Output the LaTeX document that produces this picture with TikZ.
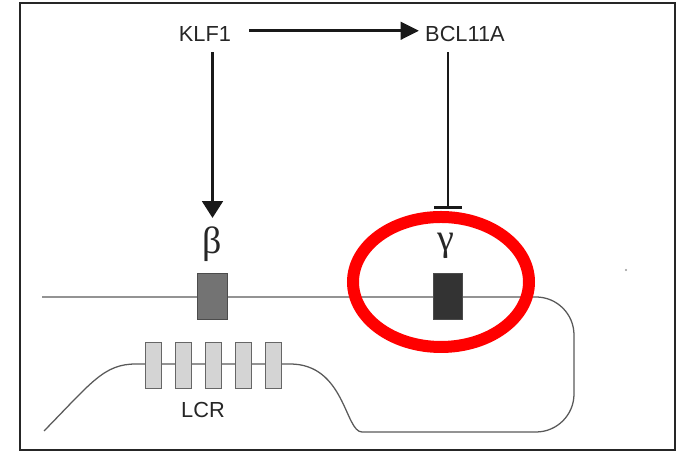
\documentclass[tikz,border=0pt]{standalone}
\usepackage{fontspec}
\setsansfont{Liberation Sans}
\newfontfamily\greekfont{Liberation Serif}
\usepackage{tikz}
\usetikzlibrary{arrows.meta,positioning}
\usepackage{xcolor}

\begin{document}
\begin{tikzpicture}[
  gene/.style={inner sep=0pt, font=\sffamily\fontsize{15.5}{18}\selectfont, text=black!85},
  greek/.style={inner sep=0pt, font=\greekfont\fontsize{27}{30}\selectfont, text=black!85},
  genebox/.style={rectangle, draw=black!70, line width=0.6pt,
    minimum width=0.73cm, minimum height=1.15cm, inner sep=0pt},
  lcrbox/.style={rectangle, draw=black!60, fill=black!17, line width=0.6pt,
    minimum width=0.4cm, minimum height=1.15cm, inner sep=0pt},
  arrow/.style={-{Triangle[length=0.42cm,width=0.52cm]}, line width=1.7pt, black!90},
  repress/.style={-{Bar[width=0.68cm,line width=2pt]}, line width=1.7pt, black!90},
  dna/.style={line width=0.9pt, black!65},
  highlight/.style={draw=red, line width=0.3cm}
]
\useasboundingbox (0,0) rectangle (17.05,11.3);
\draw[line width=1.8pt, black!85] (0.5,0.05) rectangle (16.875,11.225);

% Regulators
\node[gene] (klf) at (5.125,10.44) {KLF1};
\node[gene] (bcl) at (11.625,10.44) {BCL11A};

% Chromosome
\coordinate (dnaL) at (1.05,3.875);
\draw[dna, rounded corners=0.95cm] (dnaL) -- (14.35,3.875) -- (14.35,0.5) -- (10.0,0.5)
  [sharp corners] .. controls (8.625,0.5) and (8.625,2.2) .. (7.25,2.2)
  -- (3.4,2.2) .. controls (2.6,2.2) and (2.3,1.75) .. (1.1,0.525);

% Globin genes
\node[genebox, fill=black!55] (betabox) at (5.3125,3.9) {};
\node[genebox, fill=black!80] (gammabox) at (11.2,3.9) {};
\node[greek] (betalbl) at (5.3,5.2) {β};
\node[greek] (gammalbl) at (11.15,5.15) {γ};

% Locus control region
\foreach \i/\x in {1/3.825,2/4.575,3/5.325,4/6.075,5/6.825}
  \node[lcrbox] (lcr\i) at (\x,2.175) {};
\node[gene] (lcrlbl) at (5.075,1.05) {LCR};

% Regulation
\draw[arrow, -{Triangle[length=0.46cm,width=0.44cm]}, line width=2pt, shorten <=0.45cm, shorten >=0.15cm]
  ([yshift=0.09cm]klf.east) -- ([yshift=0.09cm]bcl.west);
\draw[arrow, shorten <=0.25cm, shorten >=0.21cm] (klf.south -| betabox) -- (betalbl.north -| betabox);
\draw[repress, shorten <=0.25cm, shorten >=0.6cm] (bcl.south -| gammabox) -- (gammalbl.north -| gammabox);

% Highlight
\draw[highlight] (11.025,4.25) ellipse [x radius=2.2cm, y radius=1.625cm];

\fill[black!40] (15.65,4.55) circle (0.03);
\end{tikzpicture}
\end{document}
